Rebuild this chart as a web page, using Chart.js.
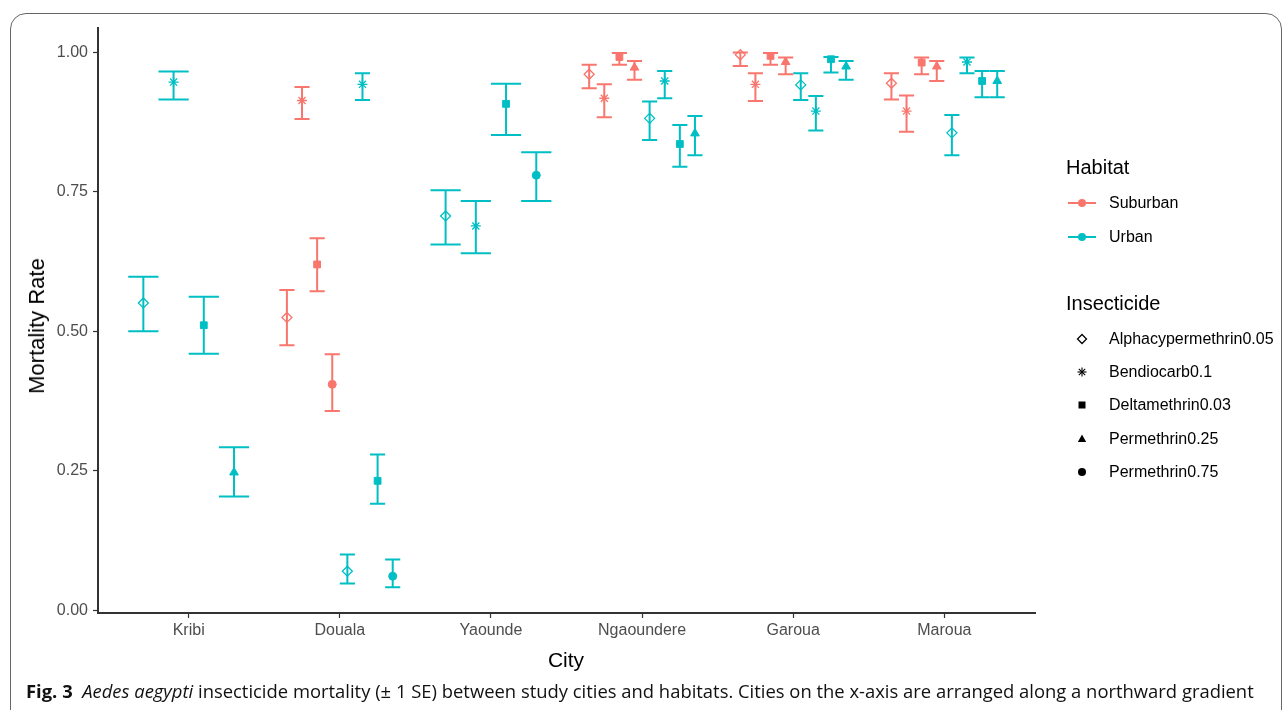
<!DOCTYPE html>
<html>
<head>
<meta charset="utf-8">
<title>Aedes aegypti insecticide mortality</title>
<script src="https://cdn.jsdelivr.net/npm/chart.js@4.4.1/dist/chart.umd.min.js"></script>
<style>
  body { margin: 0; width: 1284px; height: 710px; overflow: hidden; background: #fff;
         font-family: "Liberation Sans", Arial, sans-serif; }
  #frame { position: absolute; left: 10px; top: 13px; width: 1270px; height: 760px;
           border: 1px solid #666; border-radius: 16px; }
  #wrap { position: absolute; left: 0; top: 0; width: 1284px; height: 710px; }
  .ytitle { position: absolute; left: 37px; top: 326px; transform: translate(-50%, -50%) rotate(-90deg);
            font-size: 22px; white-space: nowrap; color: #000; }
  .xtitle { position: absolute; left: 566px; top: 660px; transform: translate(-50%, -50%);
            font-size: 21px; color: #000; }
  .lg { position: absolute; white-space: nowrap; line-height: 24px; height: 24px; }
  .lg-title { font-size: 20px; color: #000; }
  .lg-text { font-size: 16px; color: #000; }
  .lg svg { position: absolute; }
  #caption { position: absolute; left: 26px; top: 682px; font-family: "Open Sans", "Noto Sans", sans-serif;
             font-size: 18px; line-height: 18px; white-space: nowrap; color: #111; transform-origin: 0 0; }
  #caption b { font-weight: 700; }
</style>
</head>
<body>
<div id="frame"></div>
<div id="wrap"><canvas id="chart" width="1284" height="710"></canvas></div>
<div class="ytitle">Mortality Rate</div>
<div class="xtitle">City</div>
<div id="legend"></div>
<div id="caption"><b>Fig. 3</b>&nbsp; <i>Aedes aegypti</i> insecticide mortality (± 1 SE) between study cities and habitats. Cities on the x-axis are arranged along a northward gradient</div>

<script>
  // ---- data ----
  var cities = ['Kribi', 'Douala', 'Yaounde', 'Ngaoundere', 'Garoua', 'Maroua'];
  var habitats = ['Suburban', 'Urban'];
  var insecticides = ['Alphacypermethrin0.05', 'Bendiocarb0.1', 'Deltamethrin0.03', 'Permethrin0.25', 'Permethrin0.75'];
  var yTicks = [0, 0.25, 0.5, 0.75, 1];

  // one entry per (city, habitat, insecticide) row, as in the plotted table
  // city / habitat / insecticide are indexes into the arrays above
  var rowCity =        [0,0,0,0, 1,1,1,1,1,1,1,1, 2,2,2,2, 3,3,3,3,3,3,3,3, 4,4,4,4,4,4,4,4, 5,5,5,5,5,5,5,5];
  var rowHabitat =     [1,1,1,1, 0,0,0,0,1,1,1,1, 1,1,1,1, 0,0,0,0,1,1,1,1, 0,0,0,0,1,1,1,1, 0,0,0,0,1,1,1,1];
  var rowInsecticide = [0,1,2,3, 0,1,2,4,0,1,2,4, 0,1,2,4, 0,1,2,3,0,1,2,3, 0,1,2,3,0,1,2,3, 0,1,2,3,0,1,2,3];
  var mortality = [0.551, 0.947, 0.511, 0.247,
                   0.525, 0.914, 0.620, 0.405, 0.070, 0.943, 0.232, 0.061,
                   0.707, 0.689, 0.908, 0.780,
                   0.961, 0.918, 0.992, 0.973, 0.882, 0.949, 0.836, 0.855,
                   0.996, 0.943, 0.994, 0.983, 0.942, 0.895, 0.988, 0.975,
                   0.945, 0.895, 0.982, 0.975, 0.856, 0.983, 0.949, 0.949];
  var seLower =   [0.500, 0.916, 0.460, 0.204,
                   0.475, 0.881, 0.572, 0.357, 0.048, 0.915, 0.191, 0.041,
                   0.656, 0.640, 0.852, 0.734,
                   0.936, 0.884, 0.978, 0.951, 0.843, 0.918, 0.795, 0.816,
                   0.976, 0.913, 0.978, 0.961, 0.915, 0.860, 0.964, 0.951,
                   0.916, 0.858, 0.961, 0.949, 0.816, 0.963, 0.920, 0.920];
  var seUpper =   [0.598, 0.966, 0.562, 0.292,
                   0.574, 0.938, 0.667, 0.459, 0.100, 0.963, 0.279, 0.091,
                   0.753, 0.734, 0.944, 0.821,
                   0.978, 0.943, 0.999, 0.985, 0.912, 0.967, 0.870, 0.886,
                   1.000, 0.963, 0.999, 0.991, 0.963, 0.922, 0.992, 0.985,
                   0.963, 0.923, 0.991, 0.985, 0.888, 0.991, 0.967, 0.967];

  // ---- styling ----
  var habitatColors = ['#F8766D', '#00BFC4'];
  var shapeStyles = ['rectRot', 'star', 'rect', 'triangle', 'circle'];
  var shapeFilled = [false, false, true, true, true];
  var shapeRadius = [5, 5, 4.8, 5, 4];
  var dodgeWidth = 0.8;

  // dodge groups inside each city like ggplot position_dodge
  function groupsIn(c) {
    var g = [];
    for (var i = 0; i < rowCity.length; i++) {
      if (rowCity[i] === c) g.push(rowHabitat[i] * 10 + rowInsecticide[i]);
    }
    return g.sort(function(a, b) { return a - b; });
  }

  var datasets = [];
  habitats.forEach(function(h, hi) {
    insecticides.forEach(function(ins, ii) {
      var pts = [];
      for (var i = 0; i < rowCity.length; i++) {
        if (rowHabitat[i] !== hi || rowInsecticide[i] !== ii) continue;
        var g = groupsIn(rowCity[i]);
        var slot = dodgeWidth / g.length;
        var k = g.indexOf(hi * 10 + ii);
        pts.push({
          x: rowCity[i] + 1 - dodgeWidth / 2 + (k + 0.5) * slot,
          y: mortality[i], lo: seLower[i], hi: seUpper[i], half: slot / 2
        });
      }
      if (!pts.length) return;
      datasets.push({
        label: h + ' ' + ins,
        data: pts,
        pointStyle: shapeStyles[ii],
        pointRadius: shapeRadius[ii],
        pointBorderWidth: shapeFilled[ii] ? 1 : 1.3,
        borderColor: habitatColors[hi],
        backgroundColor: shapeFilled[ii] ? habitatColors[hi] : 'rgba(0,0,0,0)',
        showLine: false
      });
    });
  });

  // error bars drawn from lo/hi through the chart scales
  var errorBars = {
    id: 'errorBars',
    beforeDatasetsDraw: function(chart) {
      var ctx = chart.ctx, x = chart.scales.x, y = chart.scales.y;
      ctx.save();
      ctx.lineWidth = 2;
      chart.data.datasets.forEach(function(ds) {
        ctx.strokeStyle = ds.borderColor;
        ds.data.forEach(function(p) {
          var px = x.getPixelForValue(p.x);
          var hw = x.getPixelForValue(p.x + p.half) - px;
          var yl = y.getPixelForValue(p.lo), yh = y.getPixelForValue(p.hi);
          ctx.beginPath();
          ctx.moveTo(px, yl); ctx.lineTo(px, yh);
          ctx.moveTo(px - hw, yl); ctx.lineTo(px + hw, yl);
          ctx.moveTo(px - hw, yh); ctx.lineTo(px + hw, yh);
          ctx.stroke();
        });
      });
      ctx.restore();
    }
  };

  var tickFont = { family: '"Liberation Sans", Arial, sans-serif', size: 16 };

  new Chart(document.getElementById('chart'), {
    type: 'scatter',
    data: { datasets: datasets },
    plugins: [errorBars],
    options: {
      responsive: false,
      animation: false,
      events: [],
      layout: { padding: { left: 0, top: 28, right: 249, bottom: 0 } },
      plugins: { legend: { display: false }, tooltip: { enabled: false } },
      scales: {
        x: {
          type: 'linear', min: 0.4, max: 6.6,
          afterBuildTicks: function(s) { s.ticks = cities.map(function(c, i) { return { value: i + 1 }; }); },
          afterFit: function(s) { s.height = 97; },
          ticks: { color: '#4D4D4D', font: tickFont, padding: 3, maxRotation: 0, autoSkip: false,
                   callback: function(v) { return cities[v - 1]; } },
          grid: { drawOnChartArea: false, drawTicks: true, tickLength: 5, tickColor: '#333', tickWidth: 1.2 },
          border: { display: true, color: '#333', width: 2 }
        },
        y: {
          min: -0.005, max: 1.044,
          afterBuildTicks: function(s) { s.ticks = yTicks.map(function(v) { return { value: v }; }); },
          afterFit: function(s) { s.width = 98; },
          ticks: { color: '#4D4D4D', font: tickFont, padding: 5,
                   callback: function(v) { return v.toFixed(2); } },
          grid: { drawOnChartArea: false, drawTicks: true, tickLength: 5, tickColor: '#333', tickWidth: 1.2 },
          border: { display: true, color: '#333', width: 2 }
        }
      }
    }
  });

  // ---- legend (html, built from the arrays) ----
  var legend = document.getElementById('legend');
  function addDiv(cls, text, left, cy) {
    var d = document.createElement('div');
    d.className = 'lg ' + cls;
    d.style.left = left + 'px';
    d.style.top = (cy - 12) + 'px';
    d.textContent = text;
    legend.appendChild(d);
    return d;
  }
  function addSvg(svgInner, cx, cy, w) {
    var s = document.createElementNS('http://www.w3.org/2000/svg', 'svg');
    s.setAttribute('width', w); s.setAttribute('height', 20);
    s.style.position = 'absolute';
    s.style.left = (cx - w / 2) + 'px';
    s.style.top = (cy - 10) + 'px';
    s.innerHTML = svgInner;
    legend.appendChild(s);
  }
  var keyX = 1081.5, textX = 1109;
  addDiv('lg-title', 'Habitat', 1066, 167);
  habitats.forEach(function(h, i) {
    var cy = 203 + i * 34;
    addSvg('<line x1="1" y1="10" x2="29" y2="10" stroke="' + habitatColors[i] + '" stroke-width="2"/>' +
           '<circle cx="15" cy="10" r="4" fill="' + habitatColors[i] + '"/>', keyX, cy, 30);
    addDiv('lg-text', h, textX, cy);
  });
  addDiv('lg-title', 'Insecticide', 1066, 303);
  var legendShapes = [
    '<polygon points="10,5.5 14.5,10 10,14.5 5.5,10" fill="none" stroke="#000" stroke-width="1.3"/>',
    '<g stroke="#000" stroke-width="1.1"><line x1="10" y1="5.5" x2="10" y2="14.5"/><line x1="5.5" y1="10" x2="14.5" y2="10"/>' +
      '<line x1="6.8" y1="6.8" x2="13.2" y2="13.2"/><line x1="13.2" y1="6.8" x2="6.8" y2="13.2"/></g>',
    '<rect x="6.5" y="6.5" width="7" height="7" fill="#000"/>',
    '<polygon points="10,5.5 14.2,13 5.8,13" fill="#000"/>',
    '<circle cx="10" cy="10" r="4" fill="#000"/>'
  ];
  insecticides.forEach(function(ins, i) {
    var cy = 339 + i * 33.2;
    addSvg(legendShapes[i], keyX, cy, 20);
    addDiv('lg-text', ins, textX, cy);
  });

  // caption squeezed to the width of the original line
  var cap = document.getElementById('caption');
  cap.style.transform = 'scaleX(' + (1228 / cap.offsetWidth) + ')';
</script>
</body>
</html>
